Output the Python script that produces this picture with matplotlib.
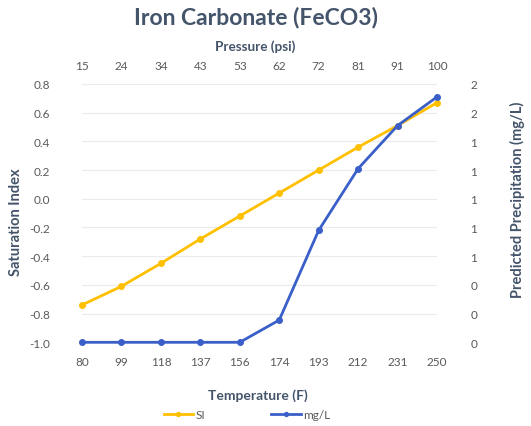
import numpy as np
import matplotlib
matplotlib.use("Agg")
import matplotlib.pyplot as plt
from matplotlib.ticker import FuncFormatter

plt.rcParams['font.family'] = ['Lato', 'DejaVu Sans']

# data
temperature = [80, 99, 118, 137, 156, 174, 193, 212, 231, 250]
pressure = [15, 24, 34, 43, 53, 62, 72, 81, 91, 100]
si = [-0.74, -0.61, -0.45, -0.28, -0.12, 0.04, 0.20, 0.36, 0.51, 0.67]
mg_l = [0.0, 0.0, 0.0, 0.0, 0.0, 0.155, 0.78, 1.21, 1.51, 1.71]

title_col = '#44546A'
tick_col = '#595959'
yellow = '#FFC000'
blue = '#3A5FC8'

fig = plt.figure(figsize=(5.31, 4.27), dpi=100)
ax = fig.add_axes([0.1544, 0.196, 0.6686, 0.605])
x = np.arange(len(temperature))

ax.plot(x, si, color=yellow, lw=2.0, marker='o', ms=4, clip_on=False, zorder=3, label='SI')
ax.set_xlim(0, len(x) - 1)
ax.set_ylim(-1.0, 0.8)
ax.set_yticks(np.arange(-1.0, 0.81, 0.2))
ax.yaxis.set_major_formatter(FuncFormatter(lambda v, p: f'{v:.1f}'.replace('-0.0', '0.0')))
ax.set_xticks(x)
ax.set_xticklabels([str(t) for t in temperature])
ax.grid(axis='y', color='#ebebeb', lw=0.8)
ax.set_axisbelow(True)

ax2 = ax.twinx()
ax2.plot(x, mg_l, color=blue, lw=2.0, marker='o', ms=4, clip_on=False, zorder=3, label='mg/L')
ax2.set_ylim(0, 1.8)
ax2.set_yticks(np.arange(0, 1.81, 0.2))
ax2.yaxis.set_major_formatter(FuncFormatter(lambda v, p: f'{v:.0f}'))

top = ax.secondary_xaxis('top')
top.set_xticks(x)
top.set_xticklabels([str(p) for p in pressure])

for a in (ax, ax2):
    for s in a.spines.values():
        s.set_visible(False)
for s in top.spines.values():
    s.set_visible(False)

ax.tick_params(axis='y', length=0, pad=23, labelsize=8.5, labelcolor=tick_col)
ax.tick_params(axis='x', length=0, pad=10, labelsize=8.5, labelcolor=tick_col)
ax2.tick_params(axis='y', length=0, pad=24, labelsize=8.5, labelcolor=tick_col)
top.tick_params(axis='x', length=0, pad=9, labelsize=8.5, labelcolor=tick_col)
for lbl in ax2.get_yticklabels():
    lbl.set_horizontalalignment('left')

ax.set_ylabel('Saturation Index', fontsize=10.5, fontweight='bold', color=title_col)
ax.yaxis.set_label_coords(-0.165, 0.47)
ax2.set_ylabel('Predicted Precipitation (mg/L)', fontsize=10.5, fontweight='bold', color=title_col,
               rotation=90)
ax2.yaxis.set_label_coords(1.205, 0.555)

fig.text(0.482, 0.96, 'Iron Carbonate (FeCO3)', ha='center', va='center', fontsize=16.5,
         fontweight='bold', color=title_col)
fig.text(0.48, 0.89, 'Pressure (psi)', ha='center', va='center', fontsize=9.7,
         fontweight='bold', color=title_col)
fig.text(0.485, 0.073, 'Temperature (F)', ha='center', va='center', fontsize=10,
         fontweight='bold', color=title_col)

h1, l1 = ax.get_legend_handles_labels()
h2, l2 = ax2.get_legend_handles_labels()
fig.legend(h1 + h2, l1 + l2, loc='center', bbox_to_anchor=(0.465, 0.027), ncol=2, frameon=False,
           fontsize=8.5, labelcolor=tick_col, handlelength=2.5, columnspacing=5.6, handletextpad=0.2,
           markerscale=0.7)

fig.savefig('out.png', dpi=100, facecolor='white')
